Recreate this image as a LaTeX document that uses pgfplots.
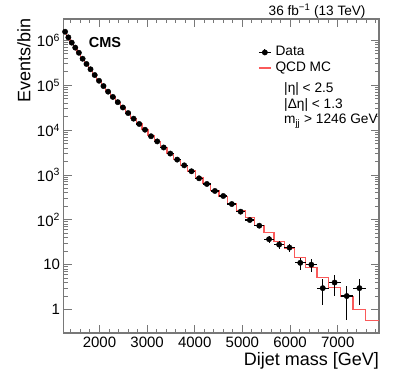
\documentclass[border=0pt]{standalone}
\usepackage{fontspec}
\setmainfont{Liberation Sans}
\usepackage{pgfplots}
\usepackage{pgfplotstable}
\pgfplotsset{compat=1.18}
\definecolor{mcred}{RGB}{250,90,90}
\definecolor{axgray}{RGB}{120,120,120}

% data: bin centre, half width, events, sqrt(N)
\pgfplotstableread{
x      ex     y        ey
1279.5 33.5   1560000  1249
1348   35     1170000  1082
1419   36     890000   943
1492.5 37.5   690000   831
1568.5 38.5   530000   728
1647   40     390000   624
1728.5 41.5   298000   546
1813   43     227000   476
1900.5 44.5   169000   411
1991   46     126000   355
2084.5 47.5   96000    310
2181.5 49.5   72000    268
2281.5 50.5   55000    235
2385   53     42000    205
2492   54     32000    179
2602.5 56.5   24000    155
2717   58     18000    134
2835   60     13700    117
2957   62     10200    101
3083   64     7300     85
3213   66     5600     75
3347.5 68.5   4100     64
3487   71     3000     55
3631   73     2200     47
3779   75     1640     40
3932   78     1210     35
4090.5 80.5   843      29
4254   83     630      25
4423   86     440      21
4597.5 88.5   340      18.4
4777.5 91.5   225      15
4963.5 94.5   152      12.3
5155.5 97.5   99       9.95
5354   101    74       8.6
5559   104    37       6.08
5770   107    28       5.29
5988   111    24       4.9
6213.5 114.5  11       3.32
6446   118    10       3.16
6686   122    3        1.73
6934   126    4        2
7190   130    2        1.41
7454.5 134.5  3        1.73
}\datatab

% QCD MC: left bin edge, events
\pgfplotstableread{
x     y
1246  1580000
1313  1180000
1383  895000
1455  690000
1530  528000
1607  392000
1687  296000
1770  226000
1856  170000
1945  127000
2037  96000
2132  72500
2231  55000
2332  42000
2438  31800
2546  24200
2659  18200
2775  13700
2895  10300
3019  7500
3147  5600
3279  4150
3416  3050
3558  2250
3704  1650
3854  1220
4010  880
4171  640
4337  460
4509  330
4686  232
4869  160
5058  114
5253  75.5
5455  51.6
5663  32.5
5877  23.2
6099  14.6
6328  8.7
6564  5.2
6808  3.1
7060  1.93
7320  1.0
7589  0.58
7866  0.58
}\mctab

\begin{document}
\begin{tikzpicture}
\path[use as bounding box] (-63.5pt,-50pt) rectangle (335.5pt,333pt);
\begin{axis}[
  at={(0pt,0pt)}, anchor=south west,
  scale only axis, width=315.5pt, height=314pt,
  xmin=1246, xmax=7866,
  ymode=log, ymin=0.3, ymax=3e6,
  axis line style={axgray, line width=1.1pt},
  tick style={axgray, line width=0.9pt},
  major tick length=8.5pt, minor tick length=4.5pt,
  tick align=inside,
  xtick={2000,3000,4000,5000,6000,7000},
  minor xtick={1400,1600,...,7800},
  scaled x ticks=false,
  ytick={1,10,100,1000,10000,100000,1000000},
  yticklabels={1,10,10\textsuperscript{2},10\textsuperscript{3},10\textsuperscript{4},10\textsuperscript{5},10\textsuperscript{6}},
  /pgf/number format/assume math mode=true,
  /pgf/number format/1000 sep={},
  tick label style={font=\fontsize{15}{18}\selectfont, black},
  xlabel={Dijet mass [GeV]},
  xlabel style={at={(axis description cs:1,-0.1035)}, anchor=base east, inner sep=0pt, font=\fontsize{18}{21}\selectfont},
  ylabel={Events/bin},
  ylabel style={at={(axis description cs:-0.1046,1.0022)}, anchor=base east, inner sep=0pt, font=\fontsize{18}{21}\selectfont},
  reverse legend,
  legend cell align=left,
  legend style={at={(axis description cs:0.6165,0.918)}, anchor=north west,
    draw=none, fill=none, inner sep=0pt, row sep=0.6pt,
    font=\fontsize{13.7}{16}\selectfont,
    nodes={inner sep=1pt, text height=10pt, text depth=3pt},
    /tikz/column sep=3pt},
]
\addplot[const plot, mcred, line width=1.2pt,
  legend image code/.code={\draw[mcred, line width=1.3pt] (0pt,0pt) -- (12pt,0pt);}]
  table[x=x, y=y] {\mctab};
\addlegendentry{QCD MC}
\addplot[only marks, mark=*, mark size=2.7pt, mark options={black, fill=black},
  legend image code/.code={
    \draw[black, line width=1.1pt] (0pt,0pt) -- (12pt,0pt);
    \draw[black, line width=1.1pt] (6pt,-3pt) -- (6pt,3pt);
    \fill[black] (6pt,0pt) circle (2.7pt);},
  error bars/.cd, x dir=both, x explicit, y dir=both, y explicit,
  error mark=none, error bar style={black, line width=1.1pt}]
  table[x=x, y=y, x error=ex, y error=ey] {\datatab};
\addlegendentry{Data}
\end{axis}
\node[anchor=base west, inner sep=0pt, font=\fontsize{14.5}{17}\selectfont\bfseries] at (25.2pt,285.7pt) {CMS};
\node[anchor=base east, inner sep=0pt, font=\fontsize{13.6}{16}\selectfont] at (302.2pt,317.3pt) {36 fb\textsuperscript{−1} (13 TeV)};
\node[anchor=base west, inner sep=0pt, font=\fontsize{13.7}{16}\selectfont] at (220.5pt,240pt) {|η| < 2.5};
\node[anchor=base west, inner sep=0pt, font=\fontsize{13.7}{16}\selectfont] at (220.5pt,224pt) {|Δη| < 1.3};
\node[anchor=base west, inner sep=0pt, font=\fontsize{13.7}{16}\selectfont] at (220.5pt,209pt) {m\textsubscript{jj} > 1246 GeV};
\end{tikzpicture}
\end{document}
